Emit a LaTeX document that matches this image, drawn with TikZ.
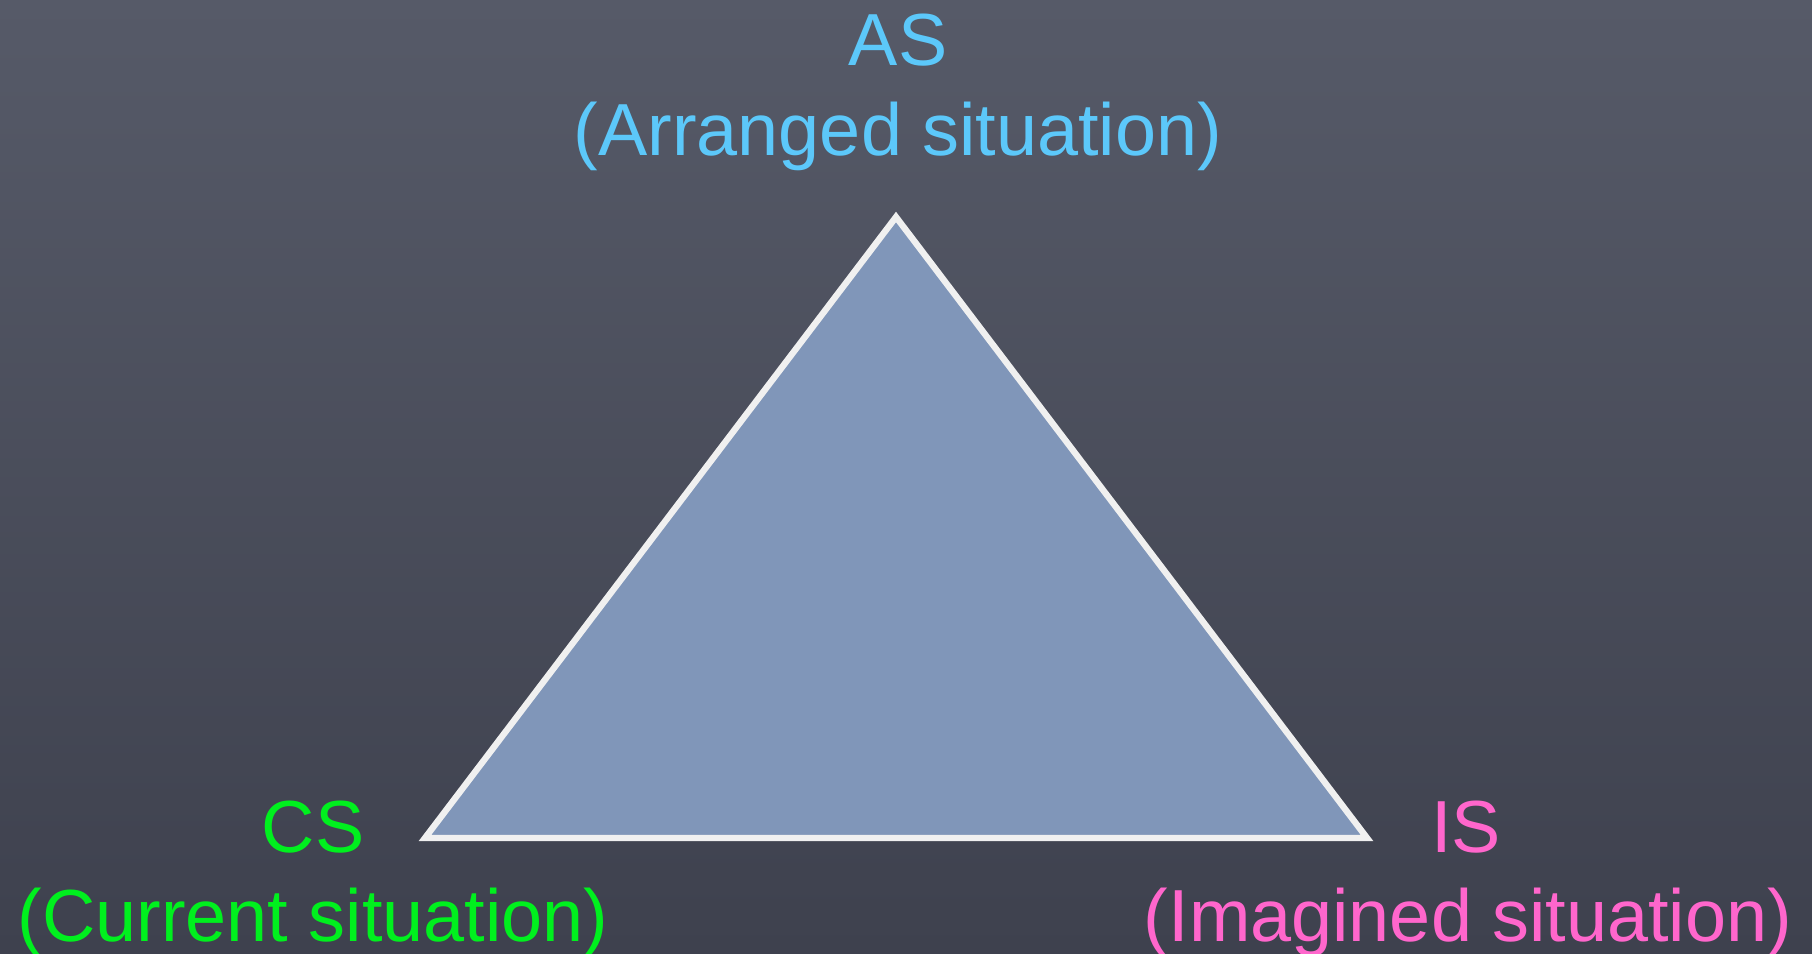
\documentclass[tikz,border=0pt]{standalone}
\usepackage{fontspec}
\setmainfont{Liberation Sans}
\usetikzlibrary{positioning}
\definecolor{boardtop}{RGB}{86,90,104}
\definecolor{boardbot}{RGB}{62,65,78}
\definecolor{trifill}{RGB}{128,150,185}
\definecolor{asblue}{RGB}{92,200,250}
\definecolor{csgreen}{RGB}{0,240,30}
\definecolor{ispink}{RGB}{255,102,204}

\begin{document}
\begin{tikzpicture}[font=\fontsize{21}{25.6}\selectfont,
    lbl/.style={anchor=base, inner sep=0pt}]
    % chalkboard
    \shade[top color=boardtop, bottom color=boardbot] (0,0) rectangle (18.12,9.54);
    \useasboundingbox (0,0) rectangle (18.12,9.54);

    \coordinate (a) at (8.96, 7.37);
    \coordinate (c) at (4.25, 1.16);
    \coordinate (i) at (13.67, 1.16);
    \draw[fill=trifill, draw=white!94!black, line width=1.8pt, line join=miter] (a) -- (c) -- (i) -- cycle;

    \node[lbl, text=asblue]   (as)  at (8.98, 8.88) {AS};
    \node[lbl, text=asblue]   (asl) at (8.98, 7.98) {(Arranged situation)};
    \node[lbl, text=csgreen]  (cs)  at (3.13, 1.01) {CS};
    \node[lbl, text=csgreen]  (csl) at (3.13, 0.12) {(Current situation)};
    \node[lbl, text=ispink]   (is)  at (14.66, 1.01) {IS};
    \node[lbl, text=ispink]   (isl) at (14.68, 0.12) {(Imagined situation)};
  \end{tikzpicture}
\end{document}
